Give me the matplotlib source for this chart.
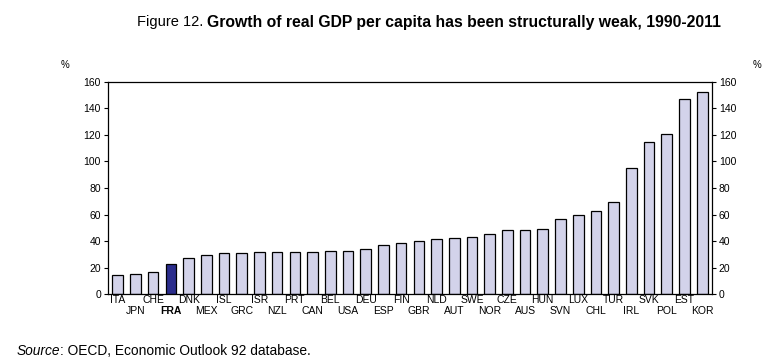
import matplotlib.pyplot as plt
from matplotlib import font_manager

plt.rcParams['font.family'] = ['Liberation Sans', 'DejaVu Sans']
plt.rcParams['font.size'] = 7.5

countries = ['ITA', 'JPN', 'CHE', 'FRA', 'DNK', 'MEX', 'ISL', 'GRC', 'ISR', 'NZL',
             'PRT', 'CAN', 'BEL', 'USA', 'DEU', 'ESP', 'FIN', 'GBR', 'NLD', 'AUT',
             'SWE', 'NOR', 'CZE', 'AUS', 'HUN', 'SVN', 'LUX', 'CHL', 'TUR', 'IRL',
             'SVK', 'POL', 'EST', 'KOR']
growth = [14.3, 15.3, 16.5, 23, 27, 30, 31, 31, 32, 32,
          32, 32, 33, 33, 34, 36.8, 39, 40.5, 41.5, 42.5,
          43.5, 45.5, 48.3, 48.3, 49.3, 57, 60, 62.8, 69.5, 94.8,
          114.3, 121, 147.3, 152]
highlight = 'FRA'
yticks = [0, 20, 40, 60, 80, 100, 120, 140, 160]

# narrow font for the title prefix if available
names = {f.name for f in font_manager.fontManager.ttflist}
title_font = 'Liberation Sans Narrow' if 'Liberation Sans Narrow' in names else 'Liberation Sans'

fig = plt.figure(figsize=(7.73, 3.63), dpi=100)
ax = fig.add_axes([0.1397, 0.189, 0.7813, 0.586])

x = list(range(len(countries)))
colors = ['#2b2d8c' if c == highlight else '#d3d3ea' for c in countries]
ax.bar(x, growth, width=0.6, color=colors, edgecolor='black', linewidth=0.9, zorder=2)

ax.set_xlim(-0.55, len(countries) - 0.45)
ax.set_ylim(0, 160)
ax.set_yticks(yticks)
ax.tick_params(axis='y', which='both', direction='out', length=3, width=0.8,
               right=True, labelright=True, pad=2, labelsize=7.5)

# alternate labels on two rows: even on major ticks, odd on minor ticks
ax.set_xticks(x[0::2])
ax.set_xticklabels(countries[0::2])
ax.set_xticks(x[1::2], minor=True)
ax.set_xticklabels(countries[1::2], minor=True)
ax.tick_params(axis='x', which='major', length=0, pad=0.3, labelsize=7.5)
ax.tick_params(axis='x', which='minor', length=0, pad=8.2, labelsize=7.5)
for lab in ax.get_xticklabels(minor=True) + ax.get_xticklabels():
    if lab.get_text() == highlight:
        lab.set_fontweight('bold')

for s in ax.spines.values():
    s.set_linewidth(0.9)

fig.text(65 / 773, 1 - 65 / 363, '%', fontsize=7, ha='center', va='center')
fig.text(757 / 773, 1 - 65 / 363, '%', fontsize=7, ha='center', va='center')

# title: regular prefix + bold part
t1 = fig.text(137 / 773, 1 - 22 / 363, 'Figure 12. ', fontsize=10.5,
              family=title_font, va='center', ha='left')
fig.canvas.draw()
bb = t1.get_window_extent()
fig.text(bb.x1 / fig.bbox.width, 1 - 22 / 363,
         'Growth of real GDP per capita has been structurally weak, 1990-2011',
         fontsize=11.3, fontweight='bold', va='center', ha='left')

s1 = fig.text(17 / 773, 1 - 351 / 363, 'Source', fontsize=9.9, style='italic',
              va='center', ha='left')
fig.canvas.draw()
bb = s1.get_window_extent()
fig.text(bb.x1 / fig.bbox.width, 1 - 351 / 363, ': OECD, Economic Outlook 92 database.',
         fontsize=9.9, va='center', ha='left')

fig.savefig('out.png', dpi=100)
